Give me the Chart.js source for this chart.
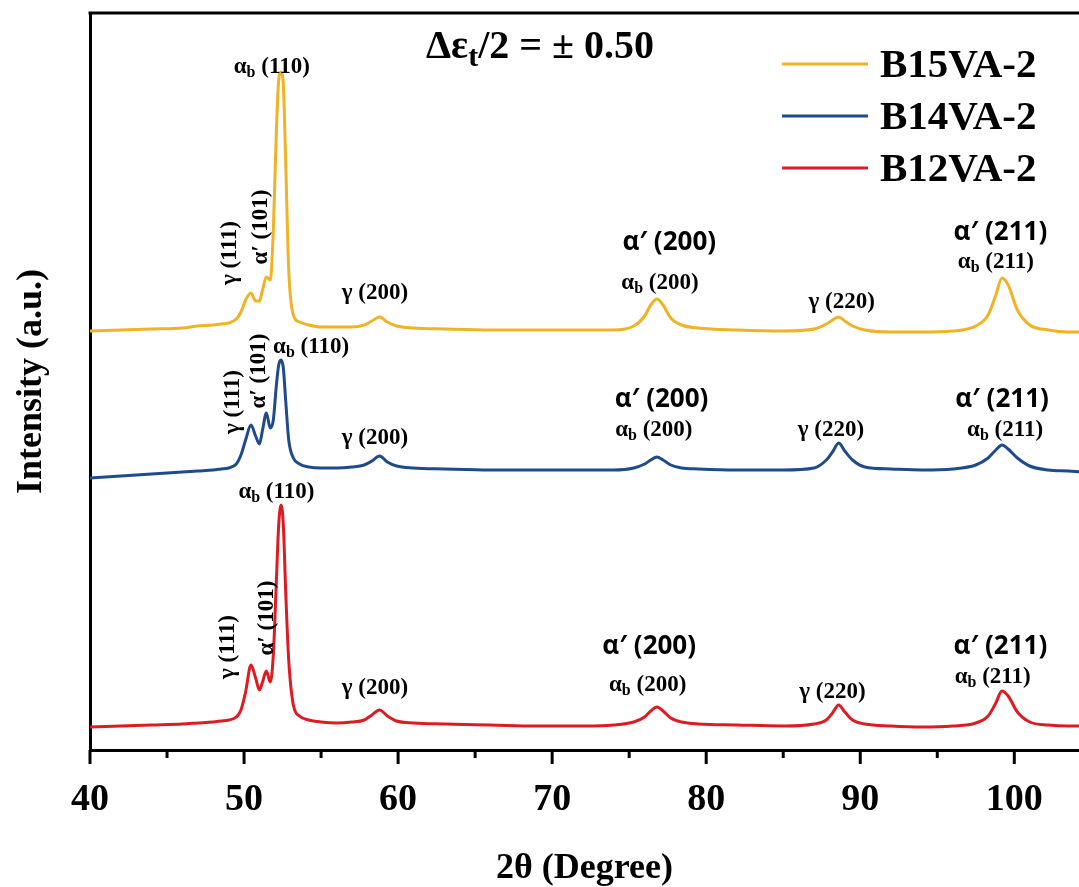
<!DOCTYPE html>
<html>
<head>
<meta charset="utf-8">
<script src="https://cdn.jsdelivr.net/npm/chart.js@4.4.1/dist/chart.umd.min.js"></script>
<style>
    html, body { margin: 0; padding: 0; background: #fff; }
</style>
</head>
<body>
<canvas id="chart" width="1079" height="887"></canvas>
<script>
// 2θ sample positions (degree), shared by the three patterns
let twoTheta = [40, 42, 44, 46, 47, 48, 48.5, 49, 49.5, 49.8, 50.1, 50.45, 50.75, 51.0, 51.2, 51.45, 51.7, 51.9,
    52.1, 52.25, 52.4, 52.55, 52.7, 52.9, 53.2, 53.6, 54.2, 55, 56, 57, 57.8, 58.3, 58.8, 59.3, 59.9, 61, 63, 66,
    69, 72, 74, 75.3, 76.0, 76.4, 76.8, 77.2, 77.7, 78.4, 79.5, 82, 85, 87, 87.8, 88.2, 88.6, 89.0, 89.5, 90.3,
    92, 94, 96, 97.5, 98.3, 98.8, 99.2, 99.6, 100.2, 101, 102.2, 103.5, 104.5]

// intensities (a.u., stacked with offsets as in the figure)
let b15 = [419, 420, 421, 422, 424, 425, 426, 427, 431, 438, 450, 457, 449, 449, 460, 473, 470, 520,
    620, 670, 678, 665, 590, 480, 435, 428, 425, 423, 423, 423, 425, 429, 433, 428, 424, 422, 421, 420,
    420, 420, 420, 424, 434, 445, 451, 445, 432, 425, 422, 420, 419, 421, 426, 430, 433, 429, 424, 420,
    418, 418, 419, 424, 435, 455, 472, 465, 440, 425, 420, 418, 418]
let b14 = [272, 274, 276, 278, 279, 280, 281, 282, 286, 295, 310, 325, 314, 306, 320, 337, 322, 330,
    365, 385, 390, 382, 350, 310, 292, 286, 283, 282, 282, 283, 285, 289, 294, 288, 284, 282, 281, 280,
    280, 280, 280, 282, 286, 290, 293, 290, 285, 282, 281, 280, 280, 282, 290, 298, 307, 299, 290, 283,
    281, 280, 281, 285, 292, 300, 305, 301, 292, 284, 280, 279, 278]
let b12 = [23, 24, 25, 26, 27, 28, 29, 30, 33, 40, 58, 85, 72, 60, 68, 79, 68, 95,
    170, 225, 245, 225, 160, 90, 45, 34, 30, 28, 27, 28, 30, 35, 40, 34, 29, 27, 26, 25,
    24, 24, 25, 28, 33, 39, 43, 39, 32, 28, 26, 25, 24, 26, 30, 37, 45, 38, 30, 26,
    24, 23, 24, 27, 34, 47, 59, 54, 38, 28, 25, 24, 24]

let seriesNames = ["B15VA-2", "B14VA-2", "B12VA-2"]
let seriesColors = ["#efb325", "#1f4b8c", "#dc1c22"]

// peak labels: [main, subscript, tail, 2θ, intensity, kind]
let peakLabels = [
    ["α", "b", " (110)", 51.8, 683, "serif"],
    ["γ (111)", "", "", 49.1, 497, "rot"],
    ["α′ (101)", "", "", 51.1, 523, "rot"],
    ["γ (200)", "", "", 58.5, 457, "serif"],
    ["α′ (200)", "", "", 77.6, 507, "sans"],
    ["α", "b", " (200)", 77.0, 467, "serif"],
    ["γ (220)", "", "", 88.8, 448, "serif"],
    ["α′ (211)", "", "", 99.1, 517, "sans"],
    ["α", "b", " (211)", 98.8, 488, "serif"],

    ["α", "b", " (110)", 54.35, 403, "serif"],
    ["γ (111)", "", "", 49.3, 348, "rot"],
    ["α′ (101)", "", "", 51.0, 379, "rot"],
    ["γ (200)", "", "", 58.5, 312, "serif"],
    ["α′ (200)", "", "", 77.1, 350, "sans"],
    ["α", "b", " (200)", 76.6, 320, "serif"],
    ["γ (220)", "", "", 88.1, 320, "serif"],
    ["α′ (211)", "", "", 99.2, 350, "sans"],
    ["α", "b", " (211)", 99.4, 320, "serif"],

    ["α", "b", " (110)", 52.1, 258, "serif"],
    ["γ (111)", "", "", 48.96, 103, "rot"],
    ["α′ (101)", "", "", 51.5, 132, "rot"],
    ["γ (200)", "", "", 58.5, 62, "serif"],
    ["α′ (200)", "", "", 76.3, 103, "sans"],
    ["α", "b", " (200)", 76.2, 65, "serif"],
    ["γ (220)", "", "", 88.2, 58, "serif"],
    ["α′ (211)", "", "", 99.1, 103, "sans"],
    ["α", "b", " (211)", 98.6, 73, "serif"]
]

const SERIF = "'Liberation Serif', 'Times New Roman', serif"

function points(values) {
    return twoTheta.map((t, i) => ({ x: t, y: values[i] }))
}

// tick marks (long every 10°, short every 5°) and the top frame line
const frame = {
    id: "frame",
    afterDraw(chart) {
        let ctx = chart.ctx
        let area = chart.chartArea
        let xs = chart.scales.x
        ctx.save()
        ctx.strokeStyle = "#000"
        ctx.lineWidth = 3
        for (let v = 40; v <= 100; v += 5) {
            let px = xs.getPixelForValue(v)
            let len = v % 10 === 0 ? 14 : 8
            ctx.beginPath()
            ctx.moveTo(px, area.bottom)
            ctx.lineTo(px, area.bottom + len)
            ctx.stroke()
        }
        ctx.beginPath()
        ctx.moveTo(area.left - 1.5, area.top)
        ctx.lineTo(area.right, area.top)
        ctx.stroke()
        ctx.restore()
    }
}

// legend in the upper right corner and the strain amplitude note
const legendBox = {
    id: "legendBox",
    afterDraw(chart) {
        let ctx = chart.ctx
        ctx.save()
        chart.data.datasets.forEach((ds, i) => {
            let y = 64 + i * 52
            ctx.strokeStyle = ds.borderColor
            ctx.lineWidth = 3
            ctx.beginPath()
            ctx.moveTo(782, y)
            ctx.lineTo(868, y)
            ctx.stroke()
            ctx.fillStyle = "#000"
            ctx.font = "bold 41px " + SERIF
            ctx.textBaseline = "middle"
            ctx.textAlign = "left"
            ctx.fillText(ds.label, 880, y + 2)
        })

        ctx.textBaseline = "alphabetic"
        ctx.fillStyle = "#000"
        let x = 426
        ctx.font = "bold 40px " + SERIF
        ctx.fillText("Δε", x, 58)
        x += ctx.measureText("Δε").width
        ctx.font = "bold 30px " + SERIF
        ctx.fillText("t", x, 66)
        x += ctx.measureText("t").width
        ctx.font = "bold 40px " + SERIF
        ctx.fillText("/2 = ± 0.50", x, 58)
        ctx.restore()
    }
}

// hkl labels next to the peaks
const hklLabels = {
    id: "hklLabels",
    afterDraw(chart) {
        let ctx = chart.ctx
        let xs = chart.scales.x
        let ys = chart.scales.y
        ctx.save()
        ctx.fillStyle = "#000"
        ctx.textBaseline = "middle"
        ctx.textAlign = "left"
        peakLabels.forEach(([main, sub, tail, t, v, kind]) => {
            let px = xs.getPixelForValue(t)
            let py = ys.getPixelForValue(v)
            let mainFont = kind === "sans" ? "bold 26px 'Open Sans', 'Liberation Sans', sans-serif" : "bold 23px " + SERIF
            let subFont = "bold 16px " + SERIF
            ctx.font = mainFont
            let w1 = ctx.measureText(main).width
            let w3 = ctx.measureText(tail).width
            ctx.font = subFont
            let w2 = sub ? ctx.measureText(sub).width : 0
            let total = w1 + w2 + w3
            ctx.save()
            ctx.translate(px, py)
            if (kind === "rot") ctx.rotate(-Math.PI / 2)
            let x = -total / 2
            ctx.font = mainFont
            ctx.fillText(main, x, 0)
            x += w1
            if (sub) {
                ctx.font = subFont
                ctx.fillText(sub, x, 6)
                x += w2
            }
            ctx.font = mainFont
            ctx.fillText(tail, x, 0)
            ctx.restore()
        })
        ctx.restore()
    }
}

let values = [b15, b14, b12]

let config = {
    type: "line",
    data: {
        datasets: seriesNames.map((name, i) => ({
            label: name,
            data: points(values[i]),
            borderColor: seriesColors[i],
            borderWidth: 3,
            pointRadius: 0,
            fill: false,
            cubicInterpolationMode: "monotone"
        }))
    },
    options: {
        responsive: false,
        animation: false,
        layout: { padding: { top: 13, left: 0, right: 0, bottom: 0 } },
        plugins: {
            legend: { display: false },
            tooltip: { enabled: false }
        },
        scales: {
            x: {
                type: "linear",
                min: 40,
                max: 104.2,
                afterFit: scale => {
                    scale.height = 137
                    scale.paddingLeft = 0
                    scale.paddingRight = 0
                },
                grid: { display: false, drawTicks: false },
                border: { display: true, color: "#000", width: 3 },
                ticks: {
                    stepSize: 10,
                    includeBounds: false,
                    autoSkip: false,
                    maxRotation: 0,
                    padding: 27,
                    color: "#000",
                    font: { family: SERIF, size: 38, weight: "bold" },
                    callback: v => (v % 10 === 0 && v <= 100 ? v : "")
                },
                title: {
                    display: true,
                    text: "2θ (Degree)",
                    color: "#000",
                    font: { family: SERIF, size: 36, weight: "bold", lineHeight: 1 },
                    padding: { top: 0, bottom: 0 }
                }
            },
            y: {
                min: 0,
                max: 737,
                afterFit: scale => { scale.width = 90 },
                grid: { display: false, drawTicks: false },
                border: { display: true, color: "#000", width: 3 },
                ticks: { display: false },
                title: {
                    display: true,
                    text: "Intensity (a.u.)",
                    color: "#000",
                    font: { family: SERIF, size: 36, weight: "bold" },
                    padding: { top: 10, bottom: 0 }
                }
            }
        }
    },
    plugins: [frame, legendBox, hklLabels]
}

let chart = new Chart(document.getElementById("chart"), config)
</script>
</body>
</html>
